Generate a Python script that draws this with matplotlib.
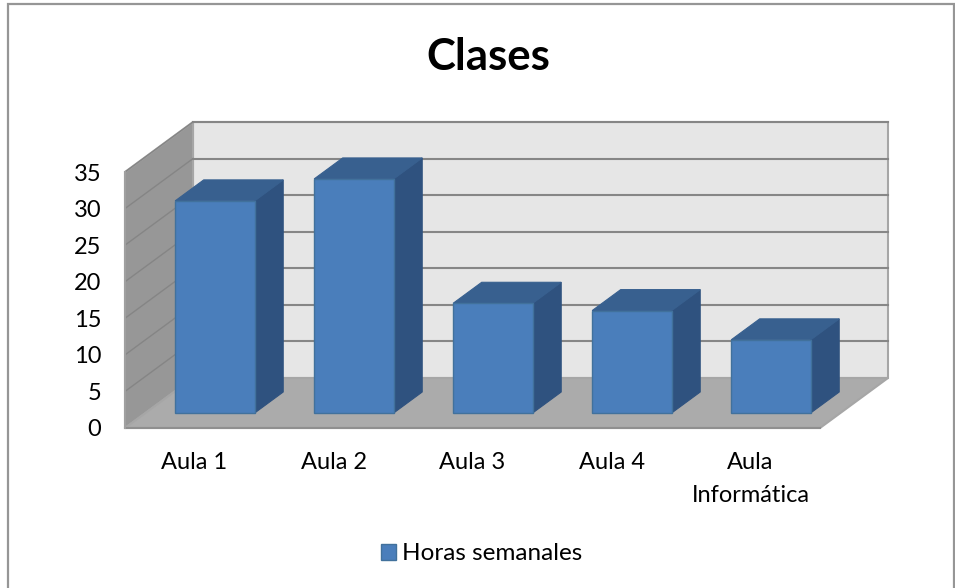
import matplotlib
matplotlib.use("Agg")
import matplotlib.pyplot as plt
from matplotlib.patches import Polygon, Rectangle

categories = ["Aula 1", "Aula 2", "Aula 3", "Aula 4", "Aula\nInformática"]
values = [29, 32, 15, 14, 10]
y_ticks = [0, 5, 10, 15, 20, 25, 30, 35]
title = "Clases"
legend_label = "Horas semanales"

W, H = 955, 588
plt.rcParams["font.family"] = ["Lato", "DejaVu Sans"]
fig = plt.figure(figsize=(W / 100, H / 100), dpi=100, facecolor="white")

# page frame
fig.add_artist(Rectangle((7.5 / W, 0 - 0.01), (W - 9) / W, (H - 3.5) / H + 0.01, transform=fig.transFigure,
                         fill=False, ec="#969696", lw=1.6))

L, R, T, B = 125, 820, 172, 428
ax = fig.add_axes([L / W, 1 - B / H, (R - L) / W, (B - T) / H])
ax.set_xlim(0, len(categories))
ax.set_ylim(0, 35)
ax.patch.set_alpha(0)
for s in ax.spines.values():
    s.set_visible(False)

cat_px = (R - L) / len(categories)
unit_px = (B - T) / 35
DX = 68 / cat_px      # chart depth in category units
DY = 50 / unit_px     # chart depth in value units
BAR_W = 79.5 / cat_px
F0, F1 = 0.30, 0.72   # bar depth range, as fractions of the chart depth


def P(x, y, d=0.0):
    return (x + DX * d, y + DY * d)


def face(pts, **kw):
    ax.add_patch(Polygon(pts, closed=True, clip_on=False, **kw))


top = max(y_ticks)
n = len(categories)
# back wall, side wall, floor
face([P(0, 0, 1), P(n, 0, 1), P(n, top, 1), P(0, top, 1)], fc="#e6e6e6", ec="#a6a6a6", lw=1.5, zorder=1)
face([P(0, 0, 0), P(0, 0, 1), P(0, top, 1), P(0, top, 0)], fc="#979797", ec="#a6a6a6", lw=1.5, zorder=1)
face([P(0, 0, 0), P(n, 0, 0), P(n, 0, 1), P(0, 0, 1)], fc="#ababab", ec="#a6a6a6", lw=1.5, zorder=1.5)

for t in y_ticks[1:]:
    ax.plot(*zip(P(0, t, 1), P(n, t, 1)), color="#868686", lw=1.5, clip_on=False, zorder=2)
    ax.plot(*zip(P(0, t, 0), P(0, t, 1)), color="#858585", lw=1.0, clip_on=False, zorder=2)
ax.plot(*zip(P(0, 0, 0), P(n, 0, 0)), color="#8f8f8f", lw=1.5, clip_on=False, zorder=2)
ax.plot(*zip(P(0, 0, 0), P(0, top, 0)), color="#a0a0a0", lw=1.5, clip_on=False, zorder=2)

front, side, cap = "#4a7ebb", "#2f527f", "#38608f"
for i, v in enumerate(values):
    x0 = i + 0.5 - BAR_W / 2
    x1 = i + 0.5 + BAR_W / 2
    z = 3 + i * 0.01
    face([P(x1, 0, F0), P(x1, 0, F1), P(x1, v, F1), P(x1, v, F0)], fc=side, ec=side, lw=0.8, zorder=z)
    face([P(x0, v, F0), P(x1, v, F0), P(x1, v, F1), P(x0, v, F1)], fc=cap, ec=cap, lw=0.8, zorder=z)
    face([P(x0, 0, F0), P(x1, 0, F0), P(x1, v, F0), P(x0, v, F0)], fc=front, ec="#41719c", lw=1.0, zorder=z + 0.005)

ax.set_xticks([i + 0.5 for i in range(n)], categories)
ax.set_yticks(y_ticks)
ax.tick_params(axis="both", length=0, labelsize=17, labelcolor="black")
ax.tick_params(axis="y", pad=17)
ax.tick_params(axis="x", pad=17)
for lab in ax.get_xticklabels():
    lab.set_linespacing(1.75)

fig.text(488.5 / W, 1 - 57 / H, title, ha="center", va="center", fontsize=31.5, fontweight="bold", color="black")

# legend
leg = ax.legend(handles=[Rectangle((0, 0), 1, 1, fc=front, ec="#41719c", lw=1, label=legend_label)],
                loc="center", bbox_to_anchor=(482 / W, 1 - 554 / H), bbox_transform=fig.transFigure,
                frameon=False, fontsize=17.5, handlelength=0.62, handleheight=0.62, handletextpad=0.25,
                borderpad=0, borderaxespad=0)

fig.savefig("out.png", dpi=100, facecolor="white")
